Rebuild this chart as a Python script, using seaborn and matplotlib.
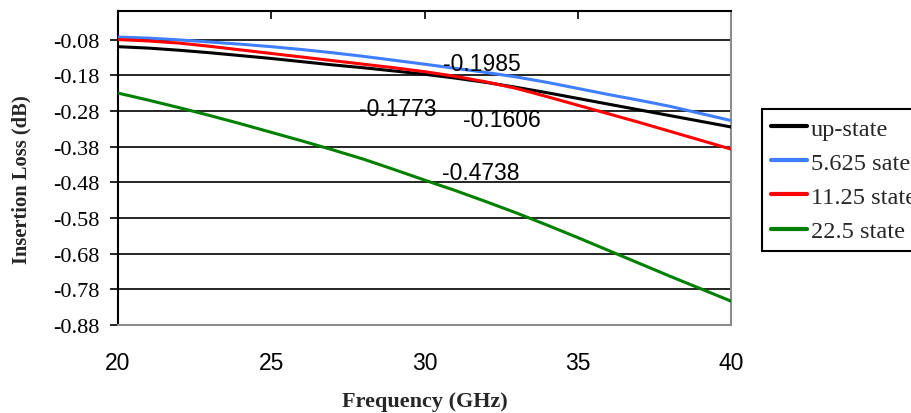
import matplotlib
matplotlib.use("Agg")
import matplotlib.pyplot as plt
from matplotlib.lines import Line2D
import numpy as np
import pandas as pd
import seaborn as sns

# Frequency sweep (GHz) and insertion loss (dB) per phase state
freq = [20, 21, 22, 23, 24, 25, 26, 27, 28, 29, 30,
        31, 32, 33, 34, 35, 36, 37, 38, 39, 40]
up_state = [-0.100, -0.104, -0.110, -0.117, -0.125, -0.133, -0.142, -0.151,
            -0.159, -0.168, -0.1773, -0.188, -0.200, -0.214, -0.229, -0.245,
            -0.261, -0.277, -0.293, -0.309, -0.325]
state_5625 = [-0.073, -0.076, -0.081, -0.087, -0.093, -0.100, -0.108, -0.117,
              -0.127, -0.138, -0.149, -0.1606, -0.172, -0.185, -0.200, -0.217,
              -0.234, -0.250, -0.267, -0.287, -0.307]
state_1125 = [-0.080, -0.084, -0.090, -0.099, -0.109, -0.119, -0.129, -0.139,
              -0.149, -0.159, -0.170, -0.183, -0.1985, -0.217, -0.240, -0.264,
              -0.288, -0.312, -0.337, -0.362, -0.387]
state_225 = [-0.230, -0.250, -0.271, -0.293, -0.316, -0.340, -0.364, -0.389,
             -0.415, -0.444, -0.4738, -0.503, -0.534, -0.566, -0.600, -0.635,
             -0.671, -0.707, -0.743, -0.778, -0.813]

series_names = ["up-state", "5.625 sate", "11.25 state", "22.5 state"]
series_colors = ["#000000", "#3F7FFF", "#FF0000", "#008000"]

x_ticks = [20, 25, 30, 35, 40]
y_ticks = [-0.88, -0.78, -0.68, -0.58, -0.48, -0.38, -0.28, -0.18, -0.08]
y_tick_labels = ["-0.88", "-0.78", "-0.68", "-0.58", "-0.48",
                 "-0.38", "-0.28", "-0.18", "-0.08"]

# Annotated readings: (text, frequency, baseline value)
notes = [("-0.1985", 30.6, -0.166),
         ("-0.1773", 27.85, -0.291),
         ("-0.1606", 31.26, -0.322),
         ("-0.4738", 30.57, -0.472)]

df = pd.concat([
    pd.DataFrame({"Frequency": freq, "Loss": vals, "State": name})
    for name, vals in zip(series_names,
                          [up_state, state_5625, state_1125, state_225])
], ignore_index=True)

sns.set_style("white")
plt.rcParams["font.family"] = ["Liberation Serif", "DejaVu Serif"]

W, H = 911, 414
fig = plt.figure(figsize=(W / 100, H / 100), dpi=100)
ax = fig.add_axes([118 / W, 1 - 326 / H, (731 - 118) / W, (326 - 12) / H])

sns.lineplot(data=df, x="Frequency", y="Loss", hue="State",
             hue_order=series_names, palette=series_colors,
             linewidth=2.2, legend=False, ax=ax, zorder=3)

ax.set_xlim(20, 40)
ax.set_ylim(-0.88, 0.0)
ax.set_xticks(x_ticks)
ax.set_xticklabels([str(t) for t in x_ticks],
                   fontfamily="Liberation Sans", fontsize=16.5)
ax.set_yticks(y_ticks)
ax.set_yticklabels(y_tick_labels, fontfamily="Liberation Serif", fontsize=16)

ax.set_axisbelow(True)
ax.grid(axis="y", color="black", linewidth=1.2)
ax.grid(axis="x", visible=False)

for side in ("top", "left"):
    ax.spines[side].set_color("black")
    ax.spines[side].set_linewidth(1.5)
for side in ("bottom", "right"):
    ax.spines[side].set_color("#8c8c8c")
    ax.spines[side].set_linewidth(1.5)

ax.tick_params(axis="x", top=True, bottom=False, labeltop=False,
               labelbottom=True, direction="in", length=5.5, width=1.2,
               color="black", pad=19, labelcolor="black")
ax.tick_params(axis="y", left=True, direction="out", length=5.5, width=1.2,
               color="black", pad=8, labelcolor="black")

ax.set_xlabel("Frequency (GHz)", fontfamily="Liberation Serif",
              fontweight="bold", fontsize=16, va="center")
ax.xaxis.set_label_coords(0.5, -0.242)
ax.set_ylabel("Insertion Loss (dB)", fontfamily="Liberation Serif",
              fontweight="bold", fontsize=14.8, va="center")
ax.yaxis.set_label_coords(-0.157, 0.467)

for text, fx, fy in notes:
    ax.text(fx, fy, text, ha="left", va="baseline",
            fontfamily="Liberation Sans", fontsize=16.5, color="black",
            zorder=4)

handles = [Line2D([0], [0], color=c, linewidth=3) for c in series_colors]
leg = ax.legend(handles, series_names, loc="upper left",
                bbox_to_anchor=(762 / W, 1 - 110 / H),
                bbox_transform=fig.transFigure, frameon=True, fancybox=False,
                edgecolor="black", framealpha=1,
                prop={"family": "Liberation Serif", "size": 17.5},
                handlelength=1.5, handletextpad=0.15, borderpad=0.35,
                labelspacing=0.5, borderaxespad=0)
leg.get_frame().set_linewidth(1.5)

fig.savefig("out.png", dpi=100)
